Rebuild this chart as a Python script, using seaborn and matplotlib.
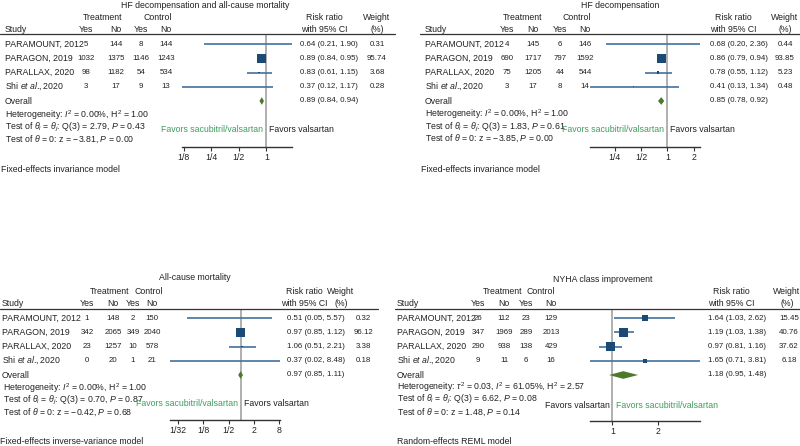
import math
import matplotlib.pyplot as plt
import matplotlib.transforms as mtransforms
from matplotlib.ticker import NullLocator
import seaborn as sns

# ---- data ----
studies = ["PARAMOUNT, 2012", "PARAGON, 2019", "PARALLAX, 2020",
           r"Shi $\mathit{et\ al.}\!\!$, 2020"]

# HF decompensation and all-cause mortality
hfm_t_yes = [5, 1032, 98, 3]
hfm_t_no = [144, 1375, 1182, 17]
hfm_c_yes = [8, 1146, 54, 9]
hfm_c_no = [144, 1243, 534, 13]
hfm_rr = [0.64, 0.89, 0.83, 0.37]
hfm_lo = [0.21, 0.84, 0.61, 0.12]
hfm_hi = [1.90, 0.95, 1.15, 1.17]
hfm_w = [0.31, 95.74, 3.68, 0.28]
hfm_overall = [0.89, 0.84, 0.94]
hfm_stats = [r"Heterogeneity: $I^2$ = 0.00%, H$^2$ = 1.00",
             r"Test of $\theta_i$ = $\theta_j$: Q(3) = 2.79, $P$ = 0.43",
             r"Test of $\theta$ = 0: z = −3.81, $P$ = 0.00"]
hfm_ticks = [1 / 8, 1 / 4, 1 / 2, 1]
hfm_ticklabels = ["1/8", "1/4", "1/2", "1"]

# HF decompensation
hf_t_yes = [4, 690, 75, 3]
hf_t_no = [145, 1717, 1205, 17]
hf_c_yes = [6, 797, 44, 8]
hf_c_no = [146, 1592, 544, 14]
hf_rr = [0.68, 0.86, 0.78, 0.41]
hf_lo = [0.20, 0.79, 0.55, 0.13]
hf_hi = [2.36, 0.94, 1.12, 1.34]
hf_w = [0.44, 93.85, 5.23, 0.48]
hf_overall = [0.85, 0.78, 0.92]
hf_stats = [r"Heterogeneity: $I^2$ = 0.00%, H$^2$ = 1.00",
            r"Test of $\theta_i$ = $\theta_j$: Q(3) = 1.83, $P$ = 0.61",
            r"Test of $\theta$ = 0: z = −3.85, $P$ = 0.00"]
hf_ticks = [1 / 4, 1 / 2, 1, 2]
hf_ticklabels = ["1/4", "1/2", "1", "2"]

# All-cause mortality
mort_t_yes = [1, 342, 23, 0]
mort_t_no = [148, 2065, 1257, 20]
mort_c_yes = [2, 349, 10, 1]
mort_c_no = [150, 2040, 578, 21]
mort_rr = [0.51, 0.97, 1.06, 0.37]
mort_lo = [0.05, 0.85, 0.51, 0.02]
mort_hi = [5.57, 1.12, 2.21, 8.48]
mort_w = [0.32, 96.12, 3.38, 0.18]
mort_overall = [0.97, 0.85, 1.11]
mort_stats = [r"Heterogeneity: $I^2$ = 0.00%, H$^2$ = 1.00",
              r"Test of $\theta_i$ = $\theta_j$: Q(3) = 0.70, $P$ = 0.87",
              r"Test of $\theta$ = 0: z = −0.42, $P$ = 0.68"]
mort_ticks = [1 / 32, 1 / 8, 1 / 2, 2, 8]
mort_ticklabels = ["1/32", "1/8", "1/2", "2", "8"]

# NYHA class improvement
nyha_t_yes = [26, 347, 290, 9]
nyha_t_no = [112, 1969, 938, 11]
nyha_c_yes = [23, 289, 138, 6]
nyha_c_no = [129, 2013, 429, 16]
nyha_rr = [1.64, 1.19, 0.97, 1.65]
nyha_lo = [1.03, 1.03, 0.81, 0.71]
nyha_hi = [2.62, 1.38, 1.16, 3.81]
nyha_w = [15.45, 40.76, 37.62, 6.18]
nyha_overall = [1.18, 0.95, 1.48]
nyha_stats = [r"Heterogeneity: $\tau^2$ = 0.03, $I^2$ = 61.05%, H$^2$ = 2.57",
              r"Test of $\theta_i$ = $\theta_j$: Q(3) = 6.62, $P$ = 0.08",
              r"Test of $\theta$ = 0: z = 1.48, $P$ = 0.14"]
nyha_ticks = [1, 2]
nyha_ticklabels = ["1", "2"]

W, H = 800, 446
FS = 6.3
NUM_FS = 5.7
TXT = "#222222"
NAVY = "#1b4a74"
CILINE = "#4272a0"
DIAMOND = "#4c7a2a"
GREEN = "#3f9e5e"

sns.set_theme(style="white")
plt.rcParams['font.family'] = ['Liberation Sans', 'DejaVu Sans']
plt.rcParams['mathtext.fontset'] = 'custom'
plt.rcParams['mathtext.rm'] = 'Liberation Sans'
plt.rcParams['mathtext.it'] = 'Liberation Sans:italic'
plt.rcParams['mathtext.bf'] = 'Liberation Sans:bold'

fig = plt.figure(figsize=(W / 100, H / 100), dpi=100)


def ftext(x, y, s, **kw):
    kw.setdefault("fontsize", FS)
    kw.setdefault("color", TXT)
    kw.setdefault("va", "center")
    fig.text(x / W, 1 - y / H, s, **kw)


def forest(title, t_yes, t_no, c_yes, c_no, rr, lo, hi, w, overall, stats,
           ticks, ticklabels, model, lay, favors_left):
    row_px = 14.25
    top, bottom = lay["ax_y"]
    row0 = lay["row0"]
    x0, x1 = lay["ax_x"]
    ax = fig.add_axes([x0 / W, 1 - bottom / H, (x1 - x0) / W, (bottom - top) / H])
    ax.patch.set_visible(False)

    rows = list(range(len(rr)))
    ov_row = len(rr)

    # CI lines, weighted squares, overall diamond
    ax.hlines(rows, lo, hi, color=CILINE, lw=1.2, zorder=2)
    sns.scatterplot(x=rr, y=rows, size=w, sizes=(0, 44), size_norm=(0, max(w)),
                    marker="s", color=NAVY, linewidth=0, legend=False, ax=ax, zorder=3)
    est, olo, ohi = overall
    dh = 0.27
    ax.fill([olo, est, ohi, est], [ov_row, ov_row - dh, ov_row, ov_row + dh],
            color=DIAMOND, lw=0, zorder=3)
    ax.axvline(1, color="#9a9a9a", lw=1.1, zorder=1)

    ax.set_xscale("log", base=2)
    ax.set_xlim(min(lo), max(hi))
    ax.set_ylim((bottom - row0) / row_px, (top - row0) / row_px)
    ax.set_xticks(ticks)
    ax.set_xticklabels(ticklabels)
    ax.xaxis.set_minor_locator(NullLocator())
    ax.set_yticks([])
    for side in ["left", "right", "top"]:
        ax.spines[side].set_visible(False)
    ax.spines["bottom"].set_color("#333333")
    ax.spines["bottom"].set_linewidth(1.0)
    ax.tick_params(axis="x", bottom=True, length=3, width=0.8, color="#333333",
                   pad=1, labelsize=FS, labelcolor=TXT)
    ax.set_xlabel("")
    ax.set_ylabel("")

    # header
    ftext(lay["title_x"], lay["title_y"], title, ha="center")
    h1, h2 = lay["hdr_y"]
    ftext(lay["grp_x"][0], h1, "Treatment", ha="center")
    ftext(lay["grp_x"][1], h1, "Control", ha="center")
    ftext(lay["study_x"], h2, "Study", ha="left")
    for cx, lab in zip(lay["cols"], ["Yes", "No", "Yes", "No"]):
        ftext(cx, h2, lab, ha="center")
    ftext(lay["rr_hdr"], h1, "Risk ratio", ha="center")
    ftext(lay["rr_hdr"], h2, "with 95% CI", ha="center")
    ftext(lay["w_hdr"], h1, "Weight", ha="center")
    ftext(lay["w_hdr"], h2, "(%)", ha="center")
    lx0, lx1, ly = lay["line"]
    fig.add_artist(plt.Line2D([lx0 / W, lx1 / W], [1 - ly / H, 1 - ly / H],
                              color="#333333", lw=0.9))

    # row texts aligned with the axes rows
    tr = mtransforms.blended_transform_factory(fig.transFigure, ax.transData)

    def rtext(x, y, s, **kw):
        kw.setdefault("fontsize", FS)
        fig.text(x / W, y, s, transform=tr, color=TXT, va="center", **kw)

    for i, name in enumerate(studies):
        rtext(lay["study_x"], i, name, ha="left")
        for cx, v in zip(lay["cols"], [t_yes[i], t_no[i], c_yes[i], c_no[i]]):
            rtext(cx, i, str(v), ha="center", fontsize=NUM_FS)
        rtext(lay["rr_x"], i, f"{rr[i]:.2f} ({lo[i]:.2f}, {hi[i]:.2f})", ha="left",
              fontsize=NUM_FS)
        rtext(lay["w_x"], i, f"{w[i]:.2f}", ha="center", fontsize=NUM_FS)
    rtext(lay["study_x"], ov_row, "Overall", ha="left")
    rtext(lay["rr_x"], ov_row, f"{est:.2f} ({olo:.2f}, {ohi:.2f})", ha="left",
          fontsize=NUM_FS)

    for s, y in zip(stats, lay["stats_y"]):
        ftext(lay["stats_x"], y, s, ha="left")

    # favours labels either side of the null line
    lg0, lg1 = math.log2(min(lo)), math.log2(max(hi))
    one_px = x0 + (x1 - x0) * (0 - lg0) / (lg1 - lg0)
    fy = lay["favors_y"]
    if favors_left:
        ftext(one_px - 3, fy, "Favors sacubitril/valsartan", ha="right", color=GREEN)
        ftext(one_px + 3, fy, "Favors valsartan", ha="left")
    else:
        ftext(one_px - 3, fy, "Favors valsartan", ha="right")
        ftext(one_px + 4, fy, "Favors sacubitril/valsartan", ha="left", color=GREEN)

    ftext(lay["model"][0], lay["model"][1], model, ha="left")


lay_tl = dict(ax_x=(182, 292), ax_y=(34, 147), row0=44, title_x=205, title_y=5,
              hdr_y=(17, 29), grp_x=(103, 158), study_x=5, cols=[86, 116, 141, 166],
              rr_hdr=324, rr_x=300, w_hdr=377, w_x=377, line=(0, 395, 34),
              stats_x=5, stats_y=[115, 127, 139], favors_y=129, model=(1, 170))
lay_tr = dict(ax_x=(590, 700), ax_y=(34, 147), row0=44, title_x=620, title_y=5,
              hdr_y=(17, 29), grp_x=(523, 577), study_x=425, cols=[507, 533, 560, 585],
              rr_hdr=733, rr_x=710, w_hdr=785, w_x=785, line=(420, 800, 34),
              stats_x=425, stats_y=[114, 127, 138], favors_y=130, model=(421, 170))
lay_bl = dict(ax_x=(170, 280), ax_y=(309, 420), row0=318, title_x=195, title_y=278,
              hdr_y=(291, 303), grp_x=(110, 149), study_x=2, cols=[87, 113, 133, 152],
              rr_hdr=304, rr_x=287, w_hdr=341, w_x=363, line=(0, 378, 309),
              stats_x=3, stats_y=[388, 400, 412], favors_y=403, model=(0, 441))
lay_br = dict(ax_x=(590, 700), ax_y=(309, 421), row0=318, title_x=603, title_y=279,
              hdr_y=(291, 303), grp_x=(503, 541), study_x=397, cols=[478, 504, 526, 551],
              rr_hdr=731, rr_x=708, w_hdr=787, w_x=789, line=(395, 800, 309),
              stats_x=397, stats_y=[387, 399, 412], favors_y=405, model=(397, 441))

forest("HF decompensation and all-cause mortality", hfm_t_yes, hfm_t_no, hfm_c_yes,
       hfm_c_no, hfm_rr, hfm_lo, hfm_hi, hfm_w, hfm_overall, hfm_stats, hfm_ticks,
       hfm_ticklabels, "Fixed-effects invariance model", lay_tl, True)
forest("HF decompensation", hf_t_yes, hf_t_no, hf_c_yes, hf_c_no, hf_rr, hf_lo, hf_hi,
       hf_w, hf_overall, hf_stats, hf_ticks, hf_ticklabels,
       "Fixed-effects invariance model", lay_tr, True)
forest("All-cause mortality", mort_t_yes, mort_t_no, mort_c_yes, mort_c_no, mort_rr,
       mort_lo, mort_hi, mort_w, mort_overall, mort_stats, mort_ticks, mort_ticklabels,
       "Fixed-effects inverse-variance model", lay_bl, True)
forest("NYHA class improvement", nyha_t_yes, nyha_t_no, nyha_c_yes, nyha_c_no, nyha_rr,
       nyha_lo, nyha_hi, nyha_w, nyha_overall, nyha_stats, nyha_ticks, nyha_ticklabels,
       "Random-effects REML model", lay_br, False)

fig.savefig("out.png", dpi=100, facecolor="white")
